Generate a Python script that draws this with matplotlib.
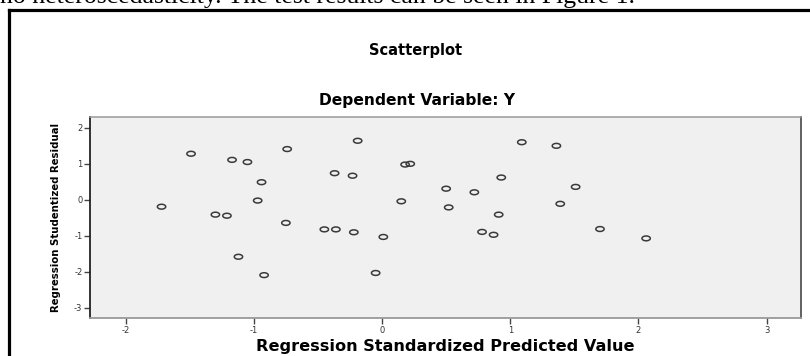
import numpy as np
import matplotlib
matplotlib.use('Agg')
import matplotlib.pyplot as plt
from matplotlib.path import Path
from matplotlib.lines import Line2D

# predicted (standardized) vs studentized residual
pred_std = [-1.72, -1.49, -1.30, -1.21, -1.17, -1.05, -1.12, -0.94, -0.97, -0.92,
            -0.74, -0.75, -0.45, -0.36, -0.37, -0.23, -0.22, -0.19, 0.01, -0.05,
            0.15, 0.18, 0.22, 0.50, 0.52, 0.72, 0.78, 0.87, 0.91, 0.93,
            1.09, 1.36, 1.39, 1.51, 1.70, 2.06]
resid_stud = [-0.19, 1.28, -0.41, -0.44, 1.11, 1.05, -1.58, 0.49, -0.02, -2.09,
              1.41, -0.64, -0.82, -0.82, 0.74, 0.67, -0.90, 1.64, -1.03, -2.03,
              -0.04, 0.98, 1.00, 0.31, -0.21, 0.21, -0.89, -0.97, -0.41, 0.62,
              1.60, 1.50, -0.11, 0.36, -0.81, -1.07]

x_ticks = [-2, -1, 0, 1, 2, 3]
y_ticks = [-3, -2, -1, 0, 1, 2]

W, H = 810, 356
fig = plt.figure(figsize=(W / 100, H / 100), dpi=100)

# cropped line of the surrounding document (only its lower edge shows)
fig.text(0, 1 - 3.5 / H,
         'no heteroscedasticity. The test results can be seen in Figure 1.',
         family='Liberation Serif', fontsize=18.5, va='baseline', ha='left')

# black frame round the chart
fy = 1 - 10 / H
fx = 8.5 / W
fig.add_artist(Line2D([fx, fx], [0, fy], color='black', lw=2.3,
                      transform=fig.transFigure, solid_capstyle='projecting'))
fig.add_artist(Line2D([fx, 1.0], [fy, fy], color='black', lw=2.3,
                      transform=fig.transFigure, solid_capstyle='projecting'))

fig.text(416 / W, 1 - 51 / H, 'Scatterplot', family='DejaVu Sans',
         fontweight='bold', fontsize=10.5, ha='center', va='center')
fig.text(417 / W, 1 - 100 / H, 'Dependent Variable: Y', family='DejaVu Sans',
         fontweight='bold', fontsize=11.2, ha='center', va='center')

ax = fig.add_axes([90 / W, 1 - 318 / H, 711 / W, 201 / H])
ax.set_facecolor('#f0f0f0')

# open ellipse marker (the source picture is stretched sideways)
t = np.linspace(0, 2 * np.pi, 40)
ell = Path(np.column_stack([np.cos(t), 0.58 * np.sin(t)]), closed=True)
ax.scatter(pred_std, resid_stud, marker=ell, s=6.0 ** 2, facecolors='none',
           edgecolors='#3a3a3a', linewidths=1.1, zorder=3)

ax.set_xlim(-2.278, 3.268)
ax.set_ylim(-3.28, 2.30)
ax.set_xticks(x_ticks)
ax.set_yticks(y_ticks)
ax.set_xticklabels([str(v) for v in x_ticks])
ax.set_yticklabels([str(v) for v in y_ticks])
ax.tick_params(axis='both', direction='out', length=4, width=1,
               color='#444444', labelsize=6, labelcolor='#333333', pad=1.5)

ax.spines['left'].set_color('#222222')
ax.spines['left'].set_linewidth(1.3)
ax.spines['right'].set_color('#555555')
ax.spines['right'].set_linewidth(1.3)
ax.spines['top'].set_color('#999999')
ax.spines['top'].set_linewidth(1.1)
ax.spines['bottom'].set_color('#999999')
ax.spines['bottom'].set_linewidth(1.3)

ax.set_xlabel('Regression Standardized Predicted Value', family='DejaVu Sans',
              fontweight='bold', fontsize=11.6, labelpad=3)
ax.set_ylabel('Regression Studentized Residual', family='DejaVu Sans',
              fontweight='bold', fontsize=7.3, labelpad=9)

fig.savefig('out.png', dpi=100)
